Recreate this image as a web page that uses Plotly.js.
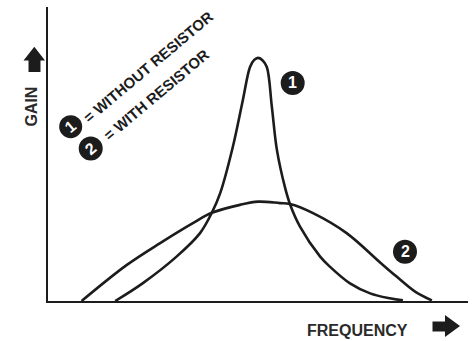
<!DOCTYPE html>
<html>
<head>
<meta charset="utf-8">
<script src="https://cdn.plot.ly/plotly-3.0.1.min.js"></script>
<style>html,body{margin:0;padding:0;background:#fff;}#chart{width:474px;height:341px;}</style>
</head>
<body>
<div id="chart"></div>
<script>
// Curve 1: without resistor (sharp resonance)
var freq1 = [1.60, 2.26, 3.06, 3.62, 3.90, 4.10, 4.40, 4.64, 4.81, 4.91, 5.00, 5.10, 5.21, 5.33, 5.45, 5.64, 5.76, 6.00, 6.48, 6.71, 7.19, 7.67, 8.14, 8.45];
var gain1 = [0.00, 0.61, 1.51, 2.31, 3.00, 3.67, 5.24, 6.84, 7.96, 8.20, 8.27, 8.20, 7.96, 6.60, 5.14, 3.88, 3.30, 2.53, 1.51, 1.17, 0.60, 0.26, 0.09, 0.02];
// Curve 2: with resistor (broad response)
var freq2 = [0.80, 1.87, 2.67, 3.45, 3.90, 4.57, 5.00, 5.52, 5.76, 6.31, 7.11, 7.90, 8.30, 8.74, 9.14];
var gain2 = [0.00, 1.22, 1.97, 2.65, 3.00, 3.27, 3.38, 3.33, 3.30, 2.99, 2.31, 1.32, 0.83, 0.32, 0.02];
var legendText = ["= WITHOUT RESISTOR", "= WITH RESISTOR"];
var curveLabels = ["1", "2"];
var xTitle = "FREQUENCY";
var yTitle = "GAIN";

var ink = "#1c1c1c";
var traces = [
  {x: freq1, y: gain1, mode: "lines", line: {color: ink, width: 2.6, shape: "spline", smoothing: 1}, hoverinfo: "skip"},
  {x: freq2, y: gain2, mode: "lines", line: {color: ink, width: 2.6, shape: "spline", smoothing: 1}, hoverinfo: "skip"}
];

function circle(px, py, d) {
  return {type: "circle", xref: "paper", yref: "paper", xsizemode: "pixel", ysizemode: "pixel",
    xanchor: px, yanchor: py, x0: -d/2, x1: d/2, y0: -d/2, y1: d/2,
    fillcolor: ink, line: {width: 0}};
}
function num(px, py, t, ang) {
  return {xref: "paper", yref: "paper", x: px, y: py, text: t, showarrow: false, textangle: ang,
    xanchor: "center", yanchor: "middle",
    font: {family: "Liberation Sans, Arial, sans-serif", size: 16, color: "#fff", weight: "bold"}};
}
var lblFont = {family: "Liberation Sans, Arial, sans-serif", size: 15, color: ink, weight: "bold"};
var titleFont = {family: "Liberation Sans, Arial, sans-serif", size: 16, color: "#2a2a2a", weight: "bold"};

var layout = {
  width: 474, height: 341,
  margin: {l: 48, r: 6, t: 7, b: 40},
  paper_bgcolor: "#fff", plot_bgcolor: "#fff",
  showlegend: false,
  xaxis: {range: [0, 10], showline: true, linecolor: ink, linewidth: 2, showgrid: false, zeroline: false, showticklabels: false, ticks: ""},
  yaxis: {range: [0, 10], showline: true, linecolor: ink, linewidth: 2, showgrid: false, zeroline: false, showticklabels: false, ticks: ""},
  shapes: [
    circle(0.5826, 0.7415, 24),
    circle(0.850, 0.1677, 24),
    circle(0.054, 0.593, 23),
    circle(0.1017, 0.519, 24),
    // up arrow next to GAIN
    {type: "path", xref: "paper", yref: "paper", fillcolor: ink, line: {width: 0},
     path: "M -0.0326 0.865 L -0.0583 0.818 L -0.0464 0.818 L -0.0464 0.779 L -0.0179 0.779 L -0.0179 0.818 L -0.0071 0.818 Z"},
    // right arrow next to FREQUENCY
    {type: "path", xref: "paper", yref: "paper", fillcolor: ink, line: {width: 0},
     path: "M 0.9155 -0.0697 L 0.9452 -0.0697 L 0.9452 -0.0476 L 0.981 -0.085 L 0.9452 -0.1224 L 0.9452 -0.1037 L 0.9155 -0.1037 Z"}
  ],
  annotations: [
    num(0.5826, 0.7415, curveLabels[0], 0),
    num(0.850, 0.1677, curveLabels[1], 0),
    num(0.054, 0.593, curveLabels[0], -40),
    num(0.1017, 0.519, curveLabels[1], -40),
    {xref: "paper", yref: "paper", x: 0.239, y: 0.799, text: legendText[0], showarrow: false, textangle: -40, xanchor: "center", yanchor: "middle", font: lblFont},
    {xref: "paper", yref: "paper", x: 0.258, y: 0.704, text: legendText[1], showarrow: false, textangle: -40, xanchor: "center", yanchor: "middle", font: lblFont},
    {xref: "paper", yref: "paper", x: 0.738, y: -0.102, text: xTitle, showarrow: false, xanchor: "center", yanchor: "middle", font: titleFont},
    {xref: "paper", yref: "paper", x: -0.0393, y: 0.663, text: yTitle, showarrow: false, textangle: -90, xanchor: "center", yanchor: "middle", font: titleFont}
  ]
};
Plotly.newPlot("chart", traces, layout, {staticPlot: true, displayModeBar: false});
</script>
</body>
</html>
